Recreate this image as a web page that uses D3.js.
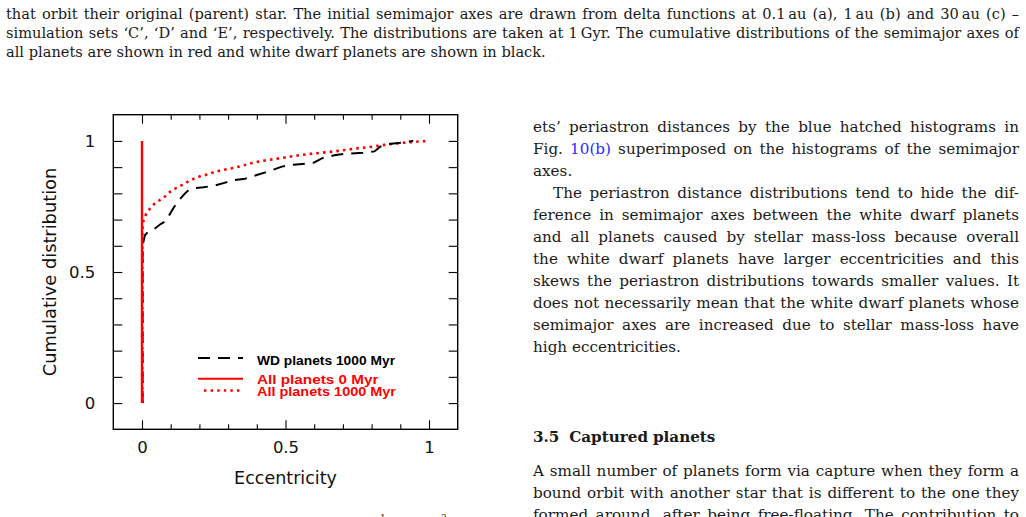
<!DOCTYPE html>
<html>
<head>
<meta charset="utf-8">
<script src="https://cdn.jsdelivr.net/npm/d3@7"></script>
<style>
  html, body { margin: 0; padding: 0; background: #fff; }
  svg { display: block; }
</style>
</head>
<body>
<svg id="page" width="1026" height="517"></svg>
<script>
// ---- chart data ----
const wdEcc = [0.002, 0.002, 0.01, 0.02, 0.04, 0.065, 0.08, 0.092, 0.109, 0.127, 0.15, 0.165, 0.18, 0.214, 0.255, 0.29, 0.324, 0.359, 0.40, 0.43, 0.455, 0.487, 0.528, 0.57, 0.60, 0.63, 0.67, 0.70, 0.77, 0.81, 0.83, 0.86, 0.90, 0.945];
const wdCum = [0, 0.60, 0.64, 0.652, 0.662, 0.683, 0.692, 0.712, 0.743, 0.772, 0.80, 0.815, 0.82, 0.823, 0.83, 0.841, 0.851, 0.856, 0.87, 0.88, 0.889, 0.902, 0.909, 0.913, 0.918, 0.935, 0.945, 0.95, 0.955, 0.96, 0.978, 0.988, 0.993, 1.0];

const allEcc = [0.001, 0.001, 0.005, 0.014, 0.028, 0.044, 0.063, 0.081, 0.10, 0.12, 0.14, 0.16, 0.183, 0.205, 0.228, 0.251, 0.276, 0.299, 0.323, 0.349, 0.371, 0.395, 0.42, 0.444, 0.493, 0.545, 0.597, 0.645, 0.693, 0.743, 0.795, 0.845, 0.90, 0.946, 0.995];
const allCum = [0, 0.66, 0.696, 0.72, 0.742, 0.761, 0.775, 0.789, 0.808, 0.821, 0.832, 0.845, 0.857, 0.866, 0.872, 0.881, 0.888, 0.893, 0.898, 0.905, 0.912, 0.919, 0.924, 0.928, 0.936, 0.945, 0.952, 0.957, 0.963, 0.971, 0.977, 0.985, 0.992, 0.996, 1.0];

const all0Ecc = [0, 0];
const all0Cum = [0, 1];

const xMajor = [0, 0.5, 1];
const ticks01 = [0, 0.1, 0.2, 0.3, 0.4, 0.5, 0.6, 0.7, 0.8, 0.9, 1];
const yLabelled = [0, 0.5, 1];

const legendLabels = ["WD planets 1000 Myr", "All planets 0 Myr", "All planets 1000 Myr"];

// ---- page text ----
const captionLines = [
  "that orbit their original (parent) star. The initial semimajor axes are drawn from delta functions at 0.1\u2009au (a), 1\u2009au (b) and 30\u2009au (c) \u2013",
  "simulation sets \u2018C\u2019, \u2018D\u2019 and \u2018E\u2019, respectively. The distributions are taken at 1\u2009Gyr. The cumulative distributions of the semimajor axes of",
  "all planets are shown in red and white dwarf planets are shown in black."
];
const rightLines = [
  "ets\u2019 periastron distances by the blue hatched histograms in",
  "Fig. 10(b) superimposed on the histograms of the semimajor",
  "axes.",
  "The periastron distance distributions tend to hide the dif-",
  "ference in semimajor axes between the white dwarf planets",
  "and all planets caused by stellar mass-loss because overall",
  "the white dwarf planets have larger eccentricities and this",
  "skews the periastron distributions towards smaller values. It",
  "does not necessarily mean that the white dwarf planets whose",
  "semimajor axes are increased due to stellar mass-loss have",
  "high eccentricities."
];
const sectionTitle = "3.5  Captured planets";
const sectionLines = [
  "A small number of planets form via capture when they form a",
  "bound orbit with another star that is different to the one they",
  "formed around, after being free-floating. The contribution to"
];

const svg = d3.select("#page");
svg.append("rect").attr("width", 1026).attr("height", 517).attr("fill", "#fff");

const serif = "'DejaVu Serif', serif";

// lay a line of words out between x0 and x1
function textLine(g, str, x0, x1, y, size, justify, weight) {
  const words = str.split(" ");
  const nodes = words.map((w) =>
    g.append("text")
      .attr("y", y)
      .attr("font-family", serif)
      .attr("font-size", size)
      .attr("font-weight", weight || "normal")
      .attr("fill", w === "10(b)" ? "#2b2bff" : "#1a1a1a")
      .text(w)
  );
  const widths = nodes.map((n) => n.node().getComputedTextLength());
  const total = d3.sum(widths);
  const gap = justify && words.length > 1
    ? (x1 - x0 - total) / (words.length - 1)
    : size * 0.32;
  let cx = x0;
  nodes.forEach((n, i) => {
    n.attr("x", cx);
    cx += widths[i] + gap;
  });
}

const gText = svg.append("g");
captionLines.forEach((s, i) =>
  textLine(gText, s, 6, 1019, 19 + i * 19.2, 14.6, i < 2)
);
rightLines.forEach((s, i) => {
  const indent = i === 3 ? 20 : 0;
  const last = i === 2 || i === rightLines.length - 1;
  textLine(gText, s, 533 + indent, 1019, 131.5 + i * 22, 15.2, !last);
});
textLine(gText, sectionTitle, 533, 1019, 441.5, 15.2, false, "bold");
sectionLines.forEach((s, i) =>
  textLine(gText, s, 533, 1019, 475.5 + i * 22, 15.2, true)
);
// superscripts from the line below the figure, cut by the page edge
gText.append("text").attr("x", 380).attr("y", 521).attr("font-family", serif)
  .attr("font-size", 9).attr("fill", "#1a1a1a").text("1");
gText.append("text").attr("x", 441).attr("y", 521).attr("font-family", serif)
  .attr("font-size", 9).attr("fill", "#1a1a1a").text("2");

// ---- chart ----
const sans = "'DejaVu Sans', sans-serif";
const xScale = d3.scaleLinear().domain([-0.1, 1.1]).range([113.3, 457.7]);
const yScale = d3.scaleLinear().domain([-0.1, 1.1]).range([429.3, 114.7]);

const chart = svg.append("g");

const xMinor = ticks01.filter((d) => !xMajor.includes(d));

function styleAxis(g) {
  g.select(".domain").remove();
  g.selectAll("line").attr("stroke", "#000").attr("stroke-width", 1.1);
  g.selectAll("text").attr("font-family", sans).attr("font-size", 16.5).attr("fill", "#111");
}

chart.append("g")
  .attr("transform", `translate(0,${yScale.range()[0]})`)
  .call(d3.axisBottom(xScale).tickValues(xMajor).tickSize(-9).tickPadding(12).tickFormat(d3.format("~g")))
  .call(styleAxis);
chart.append("g")
  .attr("transform", `translate(0,${yScale.range()[0]})`)
  .call(d3.axisBottom(xScale).tickValues(xMinor).tickSize(-5).tickFormat(""))
  .call(styleAxis);
chart.append("g")
  .attr("transform", `translate(0,${yScale.range()[1]})`)
  .call(d3.axisTop(xScale).tickValues(xMajor).tickSize(-9).tickFormat(""))
  .call(styleAxis);
chart.append("g")
  .attr("transform", `translate(0,${yScale.range()[1]})`)
  .call(d3.axisTop(xScale).tickValues(xMinor).tickSize(-5).tickFormat(""))
  .call(styleAxis);
chart.append("g")
  .attr("transform", `translate(${xScale.range()[0]},0)`)
  .call(d3.axisLeft(yScale).tickValues(ticks01).tickSize(-9).tickPadding(18)
    .tickFormat((d) => (yLabelled.includes(d) ? d3.format("~g")(d) : "")))
  .call(styleAxis);
chart.append("g")
  .attr("transform", `translate(${xScale.range()[1]},0)`)
  .call(d3.axisRight(yScale).tickValues(ticks01).tickSize(-9).tickFormat(""))
  .call(styleAxis);

chart.append("rect")
  .attr("x", xScale.range()[0])
  .attr("y", yScale.range()[1])
  .attr("width", xScale.range()[1] - xScale.range()[0])
  .attr("height", yScale.range()[0] - yScale.range()[1])
  .attr("fill", "none")
  .attr("stroke", "#000")
  .attr("stroke-width", 1.4);

chart.append("text")
  .attr("x", xScale(0.5))
  .attr("y", 484)
  .attr("text-anchor", "middle")
  .attr("font-family", sans)
  .attr("font-size", 17.5)
  .attr("fill", "#111")
  .text("Eccentricity");
chart.append("text")
  .attr("transform", `translate(55.5,${yScale(0.5)}) rotate(-90)`)
  .attr("text-anchor", "middle")
  .attr("font-family", sans)
  .attr("font-size", 17.8)
  .attr("fill", "#111")
  .text("Cumulative distribution");

const line = d3.line()
  .x((d) => xScale(d[0]))
  .y((d) => yScale(d[1]));

chart.append("path")
  .datum(d3.zip(allEcc, allCum))
  .attr("d", line)
  .attr("fill", "none")
  .attr("stroke", "#ff0000")
  .attr("stroke-width", 2.6)
  .attr("stroke-dasharray", "2.6,4.1");

chart.append("path")
  .datum(d3.zip(wdEcc, wdCum))
  .attr("d", line)
  .attr("fill", "none")
  .attr("stroke", "#000")
  .attr("stroke-width", 2)
  .attr("stroke-dasharray", "12,8");

// the 0 Myr line sits on top and hides the vertical parts of the others
chart.append("path")
  .datum(d3.zip(all0Ecc, all0Cum))
  .attr("d", line)
  .attr("fill", "none")
  .attr("stroke", "#ff0000")
  .attr("stroke-width", 2.4);

// legend
const legend = chart.append("g");
const legendRows = [
  { y: 358, dash: "12,8", color: "#000", x0: 198, w: 2, text: 364.5 },
  { y: 378.7, dash: null, color: "#ff0000", x0: 198, w: 2, text: 383.5 },
  { y: 390.5, dash: "2.4,4.2", color: "#ff0000", x0: 204, w: 2.4, text: 395.5 }
];
const legendWidths = [138, 121.5, 139];
legendRows.forEach((r, i) => {
  legend.append("line")
    .attr("x1", r.x0).attr("x2", 243)
    .attr("y1", r.y).attr("y2", r.y)
    .attr("stroke", r.color)
    .attr("stroke-width", r.w)
    .attr("stroke-dasharray", r.dash);
  legend.append("text")
    .attr("x", 257)
    .attr("y", r.text)
    .attr("font-family", "'Liberation Sans', Arial, sans-serif")
    .attr("font-weight", "bold")
    .attr("font-size", 12.5)
    .attr("fill", r.color)
    .attr("textLength", legendWidths[i])
    .attr("lengthAdjust", "spacingAndGlyphs")
    .text(legendLabels[i]);
});
</script>
</body>
</html>
